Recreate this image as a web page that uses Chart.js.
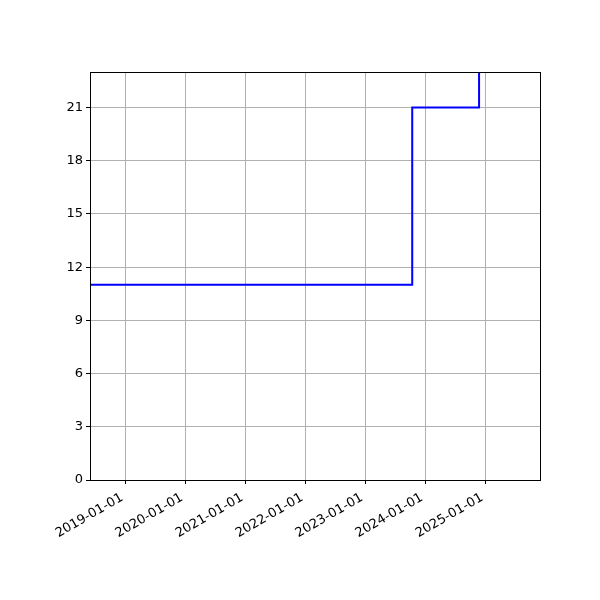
<!DOCTYPE html>
<html>
<head>
<meta charset="utf-8">
<script src="https://cdn.jsdelivr.net/npm/chart.js@4/dist/chart.umd.min.js"></script>
<style>
  html, body { margin: 0; padding: 0; background: #fff; }
  #wrap { width: 600px; height: 600px; }
</style>
</head>
<body>
<div id="wrap"><canvas id="chart" width="600" height="600"></canvas></div>
<script>
// step data: date the value starts, and value
const stepDates = ["2018-06-01", "2023-10-15", "2024-11-25"]
const stepValues = [11, 21, 26]
const xRange = ["2018-06-01", "2025-12-01"]
const xTickDates = ["2019-01-01", "2020-01-01", "2021-01-01", "2022-01-01", "2023-01-01", "2024-01-01", "2025-01-01"]
const yTicks = [0, 3, 6, 9, 12, 15, 18, 21]
const yRange = [0, 23]

const ms = (d) => Date.parse(d + "T00:00:00Z")
const fmt = (v) => new Date(v).toISOString().slice(0, 10)

const points = stepDates.map((d, i) => ({ x: ms(d), y: stepValues[i] }))

const frame = {
  id: "frame",
  afterDraw(chart) {
    const { ctx, chartArea: a } = chart
    ctx.save()
    ctx.strokeStyle = "#000"
    ctx.lineWidth = 1
    ctx.strokeRect(Math.round(a.left) + 0.5, Math.round(a.top) + 0.5,
      Math.round(a.right - a.left), Math.round(a.bottom - a.top))
    ctx.restore()
  },
}

const font = { family: "DejaVu Sans", size: 13 }

new Chart(document.getElementById("chart"), {
  type: "line",
  data: {
    datasets: [
      {
        data: points,
        stepped: "before",
        borderColor: "#0000ff",
        borderWidth: 2,
        pointRadius: 0,
        fill: false,
      },
    ],
  },
  options: {
    responsive: false,
    devicePixelRatio: 1,
    animation: false,
    layout: { padding: { top: 72, right: 60, left: 0, bottom: 0 } },
    plugins: { legend: { display: false }, tooltip: { enabled: false } },
    scales: {
      x: {
        type: "linear",
        min: ms(xRange[0]),
        max: ms(xRange[1]),
        afterBuildTicks: (s) => { s.ticks = xTickDates.map((d) => ({ value: ms(d) })) },
        afterFit: (s) => { s.height = 120 },
        grid: { color: "#b0b0b0", lineWidth: 1, tickLength: 4, tickColor: "#000" },
        border: { color: "#000" },
        ticks: {
          color: "#000",
          font,
          padding: 6,
          labelOffset: -3,
          minRotation: 30,
          maxRotation: 30,
          autoSkip: false,
          callback: (v) => fmt(v),
        },
      },
      y: {
        min: yRange[0],
        max: yRange[1],
        afterBuildTicks: (s) => { s.ticks = yTicks.map((v) => ({ value: v })) },
        afterFit: (s) => { s.width = 90 },
        grid: { color: "#b0b0b0", lineWidth: 1, tickLength: 4, tickColor: "#000" },
        border: { color: "#000" },
        ticks: { color: "#000", font, padding: 3 },
      },
    },
  },
  plugins: [frame],
})
</script>
</body>
</html>
